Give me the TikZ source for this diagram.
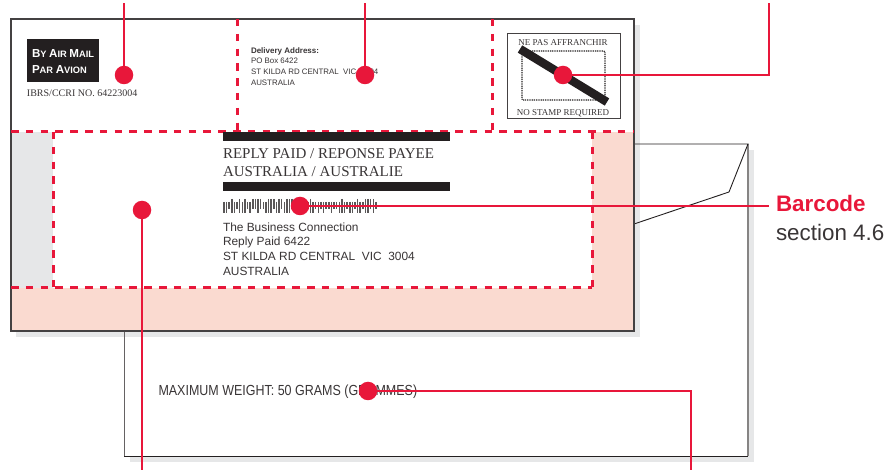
\documentclass[tikz,border=0pt]{standalone}
\usepackage{fontspec}
\setmainfont{Liberation Serif}
\setsansfont{Liberation Sans}
\newfontfamily\condfont[FakeStretch=0.855]{Liberation Sans}
\usetikzlibrary{positioning}
\definecolor{callred}{HTML}{E8173A}
\definecolor{peach}{HTML}{FADAD0}
\definecolor{palegrey}{HTML}{E6E7E8}
\definecolor{inkblack}{HTML}{231F20}
\newcommand{\fs}[1]{\fontsize{#1}{#1}\selectfont}

\begin{document}
\begin{tikzpicture}[
    x=1pt, y=-1pt,
    every node/.style={inner sep=0pt, outer sep=0pt, text=inkblack!90},
    txt/.style={anchor=base west},
    addr/.style={txt, font=\sffamily\fs{7.9}},
    retaddr/.style={txt, font=\sffamily\fs{11.9}},
    reply/.style={txt, font=\rmfamily\fs{15}},
    stamptxt/.style={anchor=base, font=\rmfamily\fs{9}},
    airtxt/.style={txt, font=\sffamily\bfseries\fs{9.3}, text=white},
    dot/.style={circle, fill=callred, minimum size=18.5pt},
    callout/.style={draw=callred, line width=1.3pt},
    zone/.style={draw=callred, line width=3pt, dash pattern=on 7.5pt off 7.3pt},
    blackbar/.style={fill=inkblack, draw=none},
    bar/.style={draw=inkblack!75, line width=1.5pt},
]
\useasboundingbox (0,0) rectangle (887,470);

% ===== BACK ENVELOPE =====
\fill[palegrey] (130,150) rectangle (754,462);
\fill[white] (124,144) rectangle (748,456);
\fill[palegrey] (16,25) rectangle (640,337);
\draw[inkblack!70, line width=1pt] (124,331) -- (124,456);
\draw[inkblack!55, line width=1.6pt] (748,144) -- (748,456);
\draw[inkblack, line width=0.9pt] (124,456) -- (748,456);
\draw[inkblack, line width=0.9pt] (634,144) -- (748,144) -- (729,192) -- (634,224);

% ===== FRONT ENVELOPE =====
\fill[white] (11,19) rectangle (634,331);
\fill[peach] (11,132) rectangle (634,331);
\fill[palegrey] (11,132) rectangle (53,288);
\fill[white] (53,132) rectangle (592,288);
\draw[inkblack!85, line width=1.2pt] (11,331) -- (11,19) -- (634,19) -- (634,331) -- cycle;

% Air mail label
\fill[inkblack] (27,39) rectangle (99,82);
\node[airtxt] (air) at (32,58)
    {{\fs{11.6}B}Y {\fs{11.6}A}IR {\fs{11.6}M}AIL};
\node[airtxt] (avion) at (32,73.5)
    {{\fs{11.6}P}AR {\fs{11.6}A}VION};
\node[txt, font=\rmfamily\fs{10}] (ibrs) at (27,97) {IBRS/CCRI NO. 64223004};

% Delivery address
\node[addr, font=\sffamily\bfseries\fs{8}] (deliv) at (251,54) {Delivery Address:};
\node[addr] (po) at (251,64) {PO Box 6422};
\node[addr] (kilda) at (251,75) {ST KILDA RD CENTRAL\ \ VIC\ \ 3004};
\node[addr] (aus) at (251,86) {AUSTRALIA};

% Stamp box
\draw[inkblack!85, line width=0.9pt] (507,33) rectangle (620.5,118);
\draw[inkblack, line width=1.2pt, dash pattern=on 1pt off 0.8pt, rounded corners=1pt] (522,51) rectangle (605,100);
\node[stamptxt] (nepas) at (563,46) {NE PAS AFFRANCHIR};
\node[stamptxt] (nostamp) at (563,115.5) {NO STAMP REQUIRED};
\draw[inkblack, line width=8.5pt] (520,49) -- (607,102);

% Reply paid block
\node[reply] (rp1) at (223,158.5) {REPLY PAID / REPONSE PAYEE};
\node[reply] (rp2) at (223,176.5) {AUSTRALIA / AUSTRALIE};

% Barcode, 1 full 2 ascender 3 descender 0 tracker
\foreach \s [count=\i from 0] in {3,3,0,1,3,0,1,3,1,0,3,2,2,1,2,0,3,1,1,2,3,1,2,3,1,1,2,1,3,1,1,1,%
    0,1,3,0,3,0,3,0,0,3,0,0,3,1,3,0,3,3,0,1,3,0,1,1,2,1,0} {
    \pgfmathsetmacro\barup{{4,7,7,4}[\s]}
    \pgfmathsetmacro\bardn{{3,7,3,7}[\s]}
    \draw[bar] ({224+\i*2.62},{206-\barup}) -- ({224+\i*2.62},{206+\bardn});
}

\node[retaddr] (biz) at (223,231.7) {The Business Connection};
\node[retaddr] (rpno) at (223,246) {Reply Paid 6422};
\node[retaddr] (rkilda) at (223,260.7) {ST KILDA RD CENTRAL\ \ VIC\ \ 3004};
\node[retaddr] (raus) at (223,275.7) {AUSTRALIA};

% Max weight
\node[txt, font=\condfont\fs{14.6}] (maxw) at (158.5,396) {MAXIMUM WEIGHT: 50 GRAMS (GRAMMES)};

% ===== ZONE LINES =====
\draw[zone] (11,132) -- (634,132);
\draw[zone] (237,19) -- (237,132);
\draw[zone] (492,19) -- (492,132);
\draw[zone] (53,132) -- (53,288);
\draw[zone] (592,132) -- (592,288);
\draw[zone] (11,288) -- (592,288);

% Black bars sit over the zone line
\fill[blackbar] (223,132) rectangle (450,141);
\fill[blackbar] (223,182) rectangle (450,191);

% ===== CALLOUTS =====
\node[dot] (d-air) at (124,75) {};
\node[dot] (d-addr) at (365,75) {};
\node[dot] (d-stamp) at (563,75) {};
\node[dot] (d-bar) at (300,206) {};
\node[dot] (d-reply) at (142,210) {};
\node[dot] (d-weight) at (368,391) {};

\coordinate (e-air) at (124,3);
\coordinate (e-addr) at (365,3);
\coordinate (e-stamp) at (769,3);
\coordinate (e-bar) at (769,206);
\coordinate (e-reply) at (142,470);
\coordinate (e-weight) at (691,470);

\draw[callout] (d-air) -- (e-air);
\draw[callout] (d-addr) -- (e-addr);
\draw[callout] (d-stamp) -| (e-stamp);
\draw[callout] (d-bar) -- (e-bar);
\draw[callout] (d-reply) -- (e-reply);
\draw[callout] (d-weight) -| (e-weight);

% Barcode label
\node[txt, font=\sffamily\bfseries\fs{22.4}, text=callred] (lab-bar) at (776,212) {Barcode};
\node[txt, font=\sffamily\fs{22.4}] (lab-sec) at (776,241) {section 4.6};

\end{tikzpicture}
\end{document}
